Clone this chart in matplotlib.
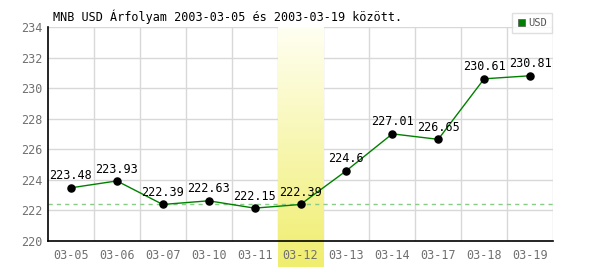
import numpy as np
import matplotlib
matplotlib.use("Agg")
import matplotlib.pyplot as plt
from matplotlib.colors import LinearSegmentedColormap

# adatok
dates = ["03-05", "03-06", "03-07", "03-10", "03-11", "03-12",
         "03-13", "03-14", "03-17", "03-18", "03-19"]
usd = [223.48, 223.93, 222.39, 222.63, 222.15, 222.39,
       224.6, 227.01, 226.65, 230.61, 230.81]
label_text = ["223.48", "223.93", "222.39", "222.63", "222.15", "222.39",
              "224.6", "227.01", "226.65", "230.61", "230.81"]
y_ticks = [220, 222, 224, 226, 228, 230, 232, 234]
ref_value = 222.39
highlight_idx = 5
title = "MNB USD Árfolyam 2003-03-05 és 2003-03-19 között."

plt.rcParams['font.family'] = ['DejaVu Sans Mono']

fig = plt.figure(figsize=(6, 2.7), dpi=100)
ax = fig.add_axes([48 / 600, 1 - 241 / 270, 505 / 600, 214 / 270])

x = np.arange(len(dates))
ax.set_xlim(-0.5, len(dates) - 0.5)
ax.set_ylim(220, 234)

# rács
for b in np.arange(0.5, len(dates) - 0.5 + 1, 1.0):
    ax.axvline(b, color="#d8d8d8", lw=1, zorder=1)
for t in y_ticks[1:]:
    ax.axhline(t, color="#d8d8d8", lw=1, zorder=1)

# kiemelt nap (sárga sáv)
cmap = LinearSegmentedColormap.from_list("sav", ["#fffff2", "#f0ee6e"])
grad = np.linspace(0, 1, 256).reshape(-1, 1)
y_bottom = 220 - (267 - 241) / (214 / 14)
ax.imshow(grad, cmap=cmap, aspect="auto", origin="upper",
          extent=[highlight_idx - 0.5, highlight_idx + 0.5, y_bottom, 234],
          zorder=2, clip_on=False)

ax.axhline(ref_value, color="#88cc88", lw=1, ls=(0, (3, 3)), zorder=3)

ax.plot(x, usd, color="#008000", lw=1, zorder=4)
ax.scatter(x, usd, s=26, color="black", zorder=5)
for xi, yi, s in zip(x, usd, label_text):
    ax.text(xi, yi + 0.35, s, ha="center", va="bottom", fontsize=8.5,
            color="black", zorder=6)

ax.set_xticks(x)
ax.set_xticklabels(dates)
ax.set_yticks(y_ticks)
ax.tick_params(length=0, colors="#707070", labelsize=8.5, pad=6)
ax.tick_params(axis="y", pad=4)
ax.xaxis.set_zorder(9)
ax.yaxis.set_zorder(9)
for side in ["top", "right"]:
    ax.spines[side].set_visible(False)
for side in ["left", "bottom"]:
    ax.spines[side].set_color("black")
    ax.spines[side].set_linewidth(1.2)
    ax.spines[side].set_zorder(7)

fig.text(53 / 600, 1 - 17 / 270, title, fontsize=8.5, va="center", ha="left")

# jelmagyarázat
leg = ax.legend([plt.Rectangle((0, 0), 1, 1, fc="#008000", ec="#555555", lw=0.5)],
                ["USD"], loc="upper right", bbox_to_anchor=(552 / 600, 1 - 13 / 270),
                bbox_transform=fig.transFigure, fontsize=7.5, frameon=True,
                fancybox=False, handlelength=0.7, handleheight=0.7,
                handletextpad=0.3, borderpad=0.5, borderaxespad=0)
leg.get_frame().set_edgecolor("#d8d8d8")
leg.get_frame().set_linewidth(1)
leg.set_zorder(8)
for t in leg.get_texts():
    t.set_color("#555555")

fig.savefig("out.png", dpi=100)
